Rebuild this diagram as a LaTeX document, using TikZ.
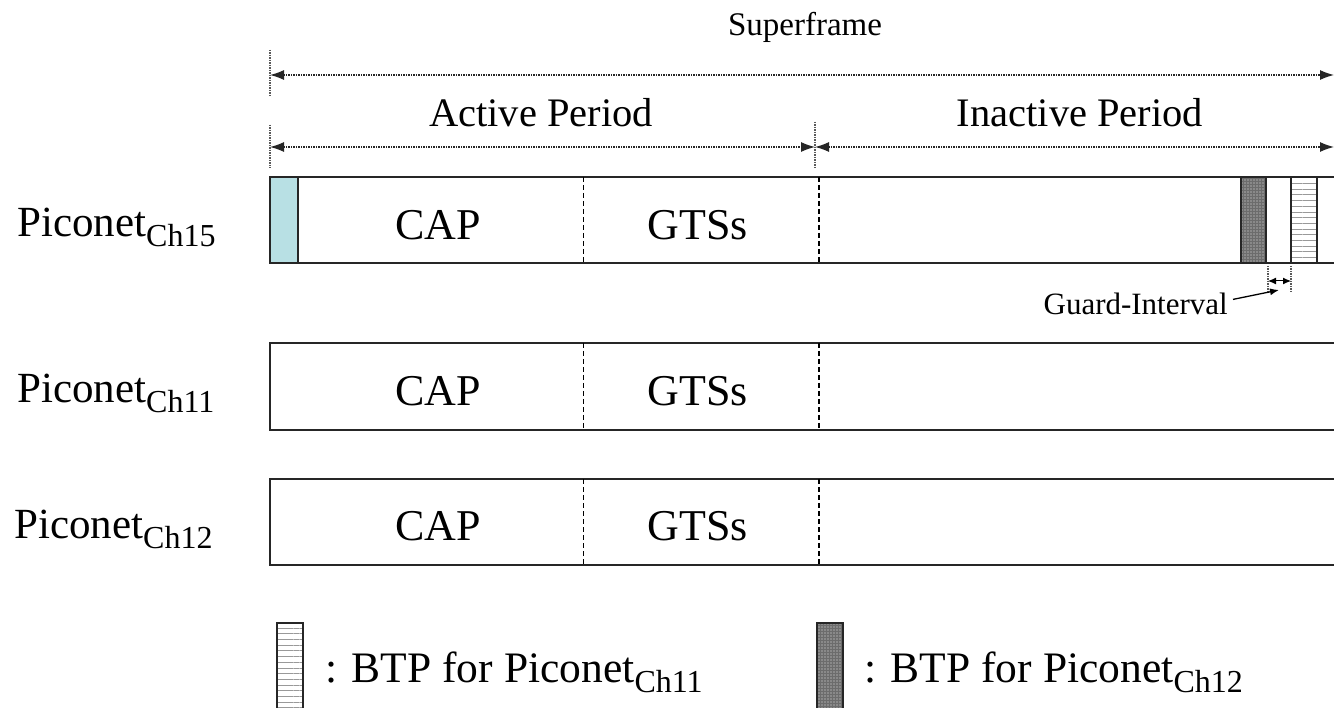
\documentclass[tikz,border=0pt]{standalone}
\usepackage{fontspec}
\setmainfont{Liberation Serif}
\usetikzlibrary{arrows.meta,patterns.meta}
\definecolor{btpcyan}{RGB}{184,224,228}
\newcommand{\subtxt}[1]{\raisebox{-10pt}{\fontsize{32}{32}\selectfont #1}}
\tikzset{
  big/.style={font=\fontsize{44}{44}\selectfont, inner sep=0pt},
  period/.style={font=\fontsize{40.5}{40.5}\selectfont, inner sep=0pt, anchor=base},
  label/.style={font=\fontsize{43}{43}\selectfont, inner sep=0pt, anchor=base west},
  small/.style={font=\fontsize{33}{33}\selectfont, inner sep=0pt},
  rowline/.style={line width=1.6pt, draw=black!85},
  divider/.style={line width=1.2pt, dash pattern=on 5pt off 3pt},
  tick/.style={line width=1.1pt, draw=gray!70!black, dash pattern=on 1.5pt off 1pt},
  dimarrow/.style={line width=1.2pt, draw=black!85, dash pattern=on 1.5pt off 1pt,
     {Latex[length=14pt,width=10pt]}-{Latex[length=14pt,width=10pt]}},
  dotbox/.style={fill=gray!85!black, postaction={pattern={Dots[distance=3pt,radius=0.7pt]}, pattern color=white!85!gray}},
  stripebox/.style={pattern={Lines[angle=0,distance=5.7pt,line width=1pt]}, pattern color=gray!80},
}
\begin{document}
\begin{tikzpicture}[x=1pt,y=-1pt]
\useasboundingbox (0,0) rectangle (1334,708);

% ---- dimension lines ----
\node[small, anchor=base] (sf) at (805,36) {Superframe};
\draw[tick] (270,50) -- (270,97);
\coordinate (sfl) at (270,75);
\coordinate (sfr) at (1334,75);
\draw[dimarrow] (sfl) -- (sfr);

\node[period] (ap) at (541,127) {Active Period};
\node[period] (ip) at (1080,127) {Inactive Period};
\draw[tick] (270,125) -- (270,168);
\draw[tick] (815,122) -- (815,168);
\coordinate (apl) at (270,147);
\coordinate (apr) at (815,147);
\coordinate (ipr) at (1334,147);
\draw[dimarrow] (apl) -- (apr);
\draw[dimarrow] (apr) -- (ipr);

% ---- row 1: Piconet Ch15 ----
\fill[btpcyan] (270,177) rectangle (298,263);
\draw[rowline] (298,177) -- (298,263);
\fill[dotbox] (1241,177) rectangle (1266,263);
\draw[rowline] (1241,177) -- (1241,263) (1266,177) -- (1266,263);
\fill[stripebox] (1291,177) rectangle (1317,263);
\draw[rowline] (1291,177) -- (1291,263) (1317,177) -- (1317,263);
\draw[rowline] (1334,177) -- (270,177) -- (270,263) -- (1334,263);
\draw[divider, line width=0.9pt] (583,177) -- (583,263);
\draw[divider] (819,177) -- (819,263);
\node[label] (p15) at (17,237) {Piconet\subtxt{Ch15}};
\node[big] (cap1) at (438,225) {CAP};
\node[big] (gts1) at (698,225) {GTSs};

% guard interval
\draw[tick] (1268,266) -- (1268,293);
\draw[tick] (1291,266) -- (1291,293);
\coordinate (gl) at (1268,281);
\coordinate (gr) at (1291,281);
\draw[line width=1pt, {Latex[length=8pt,width=7pt]}-{Latex[length=8pt,width=7pt]}] (gl) -- (gr);
\node[font=\fontsize{31}{31}\selectfont, inner sep=0pt, anchor=base east] (gi) at (1228,315) {Guard-Interval};
\coordinate (gtip) at (1279,290);
\draw[line width=1.3pt, -{Latex[length=9pt,width=7pt]}] ([xshift=5pt,yshift=5pt]gi.east) -- (gtip);

% ---- row 2: Piconet Ch11 ----
\draw[rowline] (1334,343) -- (270,343) -- (270,430) -- (1334,430);
\draw[divider, line width=0.9pt] (583,343) -- (583,430);
\draw[divider] (819,343) -- (819,430);
\node[label] (p11) at (17,403) {Piconet\subtxt{Ch11}};
\node[big] (cap2) at (438,391) {CAP};
\node[big] (gts2) at (698,391) {GTSs};

% ---- row 3: Piconet Ch12 ----
\draw[rowline] (1334,479) -- (270,479) -- (270,565) -- (1334,565);
\draw[divider, line width=0.9pt] (583,479) -- (583,565);
\draw[divider] (819,479) -- (819,565);
\node[label] (p12) at (14,538) {Piconet\subtxt{Ch12}};
\node[big] (cap3) at (438,526) {CAP};
\node[big] (gts3) at (698,526) {GTSs};

% ---- legend ----
\fill[stripebox] (277,623) rectangle (303,708);
\draw[rowline] (277,708) -- (277,623) -- (303,623) -- (303,708);
\node[label, font=\fontsize{43.5}{43.5}\selectfont] (leg1) at (325,682) {: BTP for Piconet\subtxt{Ch11}};
\fill[dotbox] (817,623) rectangle (843,708);
\draw[rowline] (817,708) -- (817,623) -- (843,623) -- (843,708);
\node[label, font=\fontsize{43.5}{43.5}\selectfont] (leg2) at (864,682) {: BTP for Piconet\subtxt{Ch12}};
\end{tikzpicture}
\end{document}
